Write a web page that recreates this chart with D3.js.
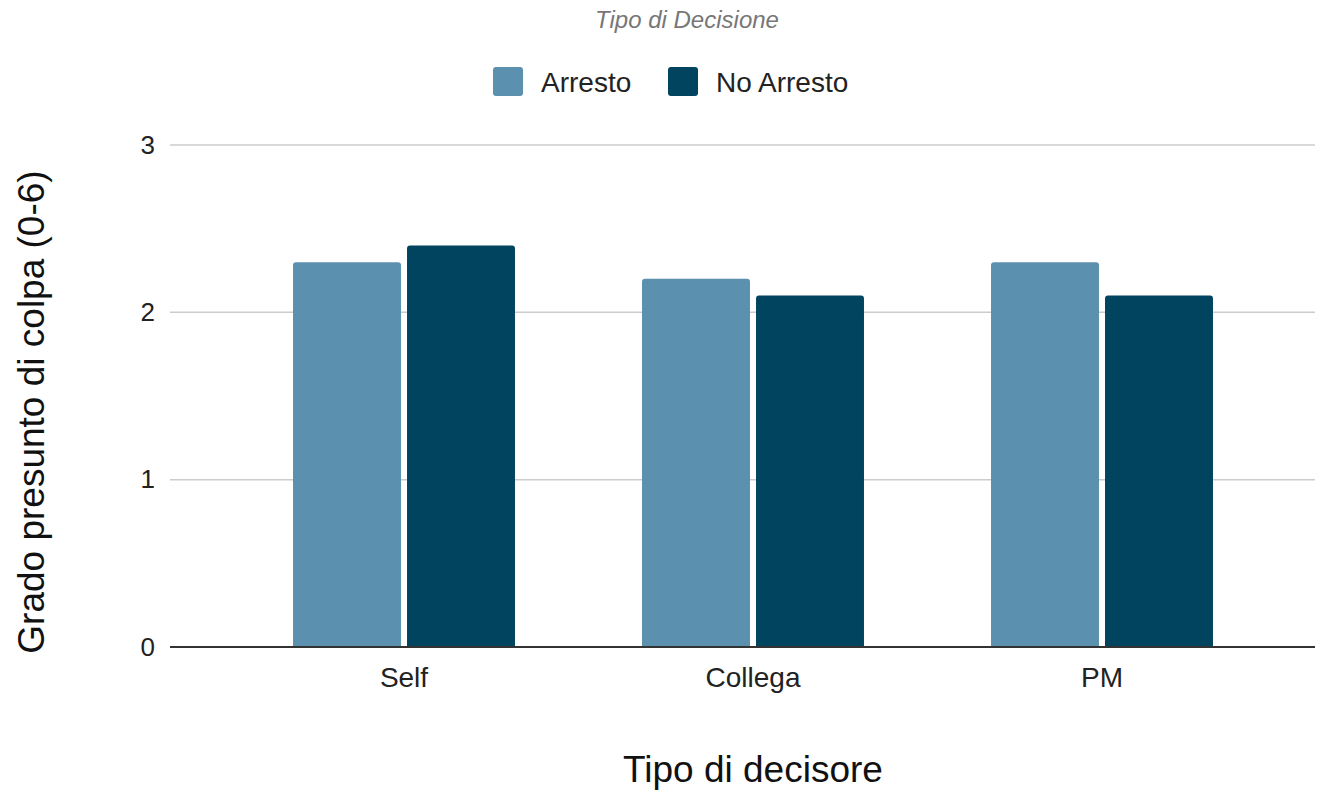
<!DOCTYPE html>
<html><head><meta charset="utf-8">
<script src="https://cdn.jsdelivr.net/npm/d3@7"></script>
<style>body{margin:0;background:#fff;} svg{display:block;font-family:"Liberation Sans",Arial,sans-serif;}</style>
</head><body><svg id="c" width="1329" height="792"></svg>
<script>
const categories = ["Self", "Collega", "PM"];
const seriesNames = ["Arresto", "No Arresto"];
const arresto = [2.3, 2.2, 2.3];
const noArresto = [2.4, 2.1, 2.1];
const yTicks = [0, 1, 2, 3];
const colors = ["#5b91ae", "#00445f"];

const svg = d3.select("#c");
const plot = {left: 170, right: 1315, top: 145, bottom: 647};

const x0 = d3.scaleBand().domain(categories).range([229.5, 1276.5]).paddingInner(0.364).paddingOuter(0.182);
const x1 = d3.scaleBand().domain(seriesNames).range([0, x0.bandwidth()]).paddingInner(0.053);
const y = d3.scaleLinear().domain([0, 3]).range([plot.bottom, plot.top]);

// gridlines
svg.append("g").selectAll("line").data(yTicks.filter(t => t > 0)).join("line")
  .attr("x1", plot.left).attr("x2", plot.right)
  .attr("y1", d => y(d)).attr("y2", d => y(d))
  .attr("stroke", "#cccccc").attr("stroke-width", 1.5);

// y tick labels
const yAxis = d3.axisLeft(y).tickValues(yTicks).tickSize(0).tickPadding(15).tickFormat(d3.format("d"));
const ya = svg.append("g").attr("transform", `translate(${plot.left},0)`).call(yAxis);
ya.select(".domain").remove();
ya.selectAll("text").attr("font-size", 26).attr("fill", "#222").attr("font-family", "Liberation Sans, Arial, sans-serif");

// bars
const data = categories.map((c, i) => ({cat: c, vals: [arresto[i], noArresto[i]]}));
const r = 3;
function barPath(x, w, yTop, yBot) {
  return `M${x},${yBot} V${yTop + r} Q${x},${yTop} ${x + r},${yTop} H${x + w - r} Q${x + w},${yTop} ${x + w},${yTop + r} V${yBot} Z`;
}
const groups = svg.append("g").selectAll("g").data(data).join("g")
  .attr("transform", d => `translate(${x0(d.cat)},0)`);
groups.selectAll("path").data(d => d.vals.map((v, j) => ({s: seriesNames[j], v, j}))).join("path")
  .attr("d", d => barPath(x1(d.s), x1.bandwidth(), y(d.v), y(0)))
  .attr("fill", d => colors[d.j]);

// baseline + x axis
const xAxis = d3.axisBottom(x0).tickSize(0).tickPadding(20);
const xa = svg.append("g").attr("transform", `translate(0,${plot.bottom})`).call(xAxis);
xa.select(".domain").remove();
xa.selectAll("text").attr("font-size", 28).attr("fill", "#222").attr("font-family", "Liberation Sans, Arial, sans-serif");
svg.append("line").attr("x1", plot.left).attr("x2", plot.right).attr("y1", y(0)).attr("y2", y(0))
  .attr("stroke", "#333").attr("stroke-width", 2);

// title
svg.append("text").attr("x", 687).attr("y", 28).attr("text-anchor", "middle")
  .attr("font-size", 24).attr("font-style", "italic").attr("fill", "#777").text("Tipo di Decisione");

// legend
const legX = [493, 668];
const leg = svg.append("g").selectAll("g").data(seriesNames).join("g")
  .attr("transform", (d, i) => `translate(${legX[i]},67)`);
leg.append("rect").attr("width", 30).attr("height", 29).attr("rx", 3).attr("fill", (d, i) => colors[i]);
leg.append("text").attr("x", 48).attr("y", 25).attr("font-size", 28).attr("fill", "#222").text(d => d);

// axis titles
svg.append("text").attr("x", 753).attr("y", 782).attr("text-anchor", "middle")
  .attr("font-size", 37).attr("fill", "#111").text("Tipo di decisore");
svg.append("text").attr("transform", "translate(44,412) rotate(-90)").attr("text-anchor", "middle")
  .attr("font-size", 37).attr("fill", "#111").text("Grado presunto di colpa (0-6)");
</script></body></html>
